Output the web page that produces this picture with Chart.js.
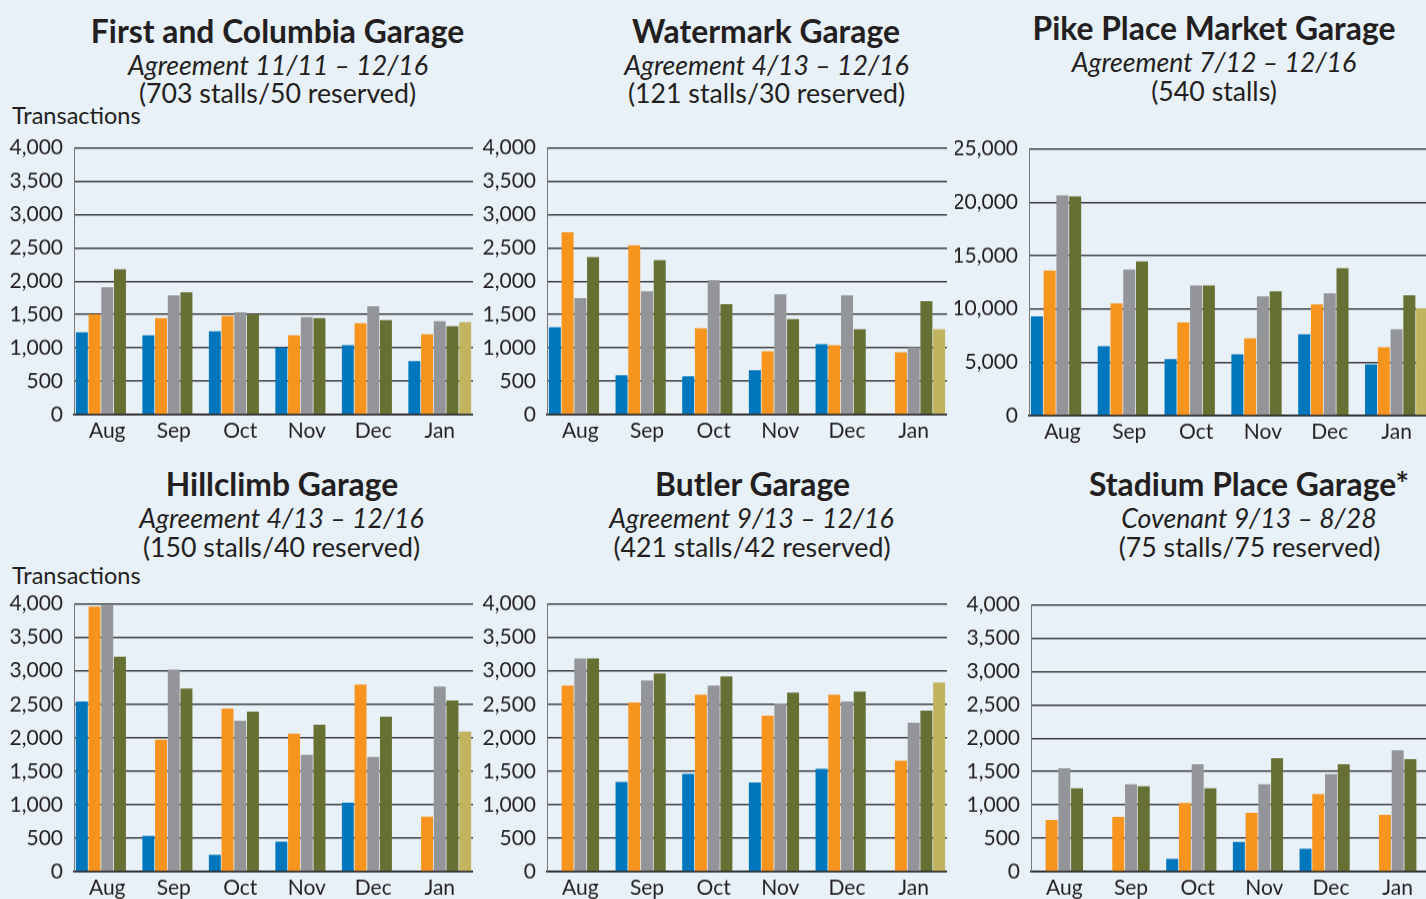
<!DOCTYPE html>
<html><head><meta charset="utf-8">
<script src="https://cdn.jsdelivr.net/npm/chart.js@4.4.1/dist/chart.umd.min.js"></script>
<style>
html,body{margin:0;padding:0;width:1426px;height:899px;overflow:hidden;background:#e8f0f8;font-family:Lato,"Noto Sans",sans-serif;color:#231f20;}
.t{position:absolute;white-space:nowrap;line-height:1.2;transform:translateX(-50%);}
.title{font-weight:bold;font-size:28px;}
.sub{font-style:italic;font-size:22px;}
.info{font-size:22px;}
.yl{position:absolute;left:12px;font-size:23.5px;line-height:1.2;white-space:nowrap;}
canvas{position:absolute;}
</style></head><body>
<script>
// ---------- data ----------
const months = ['Aug','Sep','Oct','Nov','Dec','Jan'];
const seriesLabels = ['Year 1','Year 2','Year 3','Year 4','Year 5'];
const garageNames = ['First and Columbia Garage','Watermark Garage','Pike Place Market Garage','Hillclimb Garage','Butler Garage','Stadium Place Garage*'];
const agreementTexts = ['Agreement 11/11 – 12/16','Agreement 4/13 – 12/16','Agreement 7/12 – 12/16','Agreement 4/13 – 12/16','Agreement 9/13 – 12/16','Covenant 9/13 – 8/28'];
const stallTexts = ['(703 stalls/50 reserved)','(121 stalls/30 reserved)','(540 stalls)','(150 stalls/40 reserved)','(421 stalls/42 reserved)','(75 stalls/75 reserved)'];
const ticksSmall = [0,500,1000,1500,2000,2500,3000,3500,4000];
const ticksLarge = [0,5000,10000,15000,20000,25000];

const firstColumbia = [
  [1235,1190,1250,1005,1040,800],
  [1505,1445,1475,1190,1370,1205],
  [1910,1790,1535,1460,1625,1400],
  [2180,1835,1500,1445,1415,1325],
  [null,null,null,null,null,1385]
];
const watermark = [
  [1310,590,575,665,1055,null],
  [2735,2540,1295,950,1040,935],
  [1745,1850,2015,1805,1790,1010],
  [2360,2315,1655,1430,1280,1700],
  [null,null,null,null,null,1280]
];
const pikePlace = [
  [9300,6500,5280,5750,7620,4800],
  [13600,10500,8740,7240,10420,6400],
  [20650,13700,12200,11170,11450,8080],
  [20550,14450,12200,11650,13800,11270],
  [null,null,null,null,null,10050]
];
const hillclimb = [
  [2540,535,250,445,1030,null],
  [3960,1970,2435,2060,2795,820],
  [3980,3020,2255,1745,1715,2765],
  [3210,2735,2390,2195,2315,2555],
  [null,null,null,null,null,2090]
];
const butler = [
  [null,1340,1460,1330,1535,null],
  [2780,2525,2645,2330,2645,1655],
  [3185,2855,2780,2510,2540,2225],
  [3185,2960,2915,2675,2690,2405],
  [null,null,null,null,null,2825]
];
const stadiumPlace = [
  [null,null,190,445,340,null],
  [775,820,1030,880,1160,850],
  [1550,1310,1610,1310,1460,1820],
  [1250,1280,1250,1700,1610,1685],
  [null,null,null,null,null,null]
];

// ---------- style / layout ----------
const seriesColors = ['#0077bc','#f7941e','#949598','#667032','#c2b45f'];
const allSeries = [firstColumbia, watermark, pikePlace, hillclimb, butler, stadiumPlace];
const allTicks = [ticksSmall, ticksSmall, ticksLarge, ticksSmall, ticksSmall, ticksSmall];
const panels = [
  {axisX:74,  top:148, bottom:415, right:473,  cx:[277.5,278,277.5], cy:[32,66,94], w:[373,300,277]},
  {axisX:547, top:148, bottom:415, right:947,  cx:[766,766.5,766.5], cy:[32,66,94], w:[268,285,277]},
  {axisX:1029,top:149, bottom:416, right:1430, cx:[1214,1214,1214],   cy:[29,63,92], w:[364,286,126]},
  {axisX:74,  top:604, bottom:872, right:473,  cx:[282,281.5,281.5],  cy:[485,519,548], w:[232,285,277]},
  {axisX:547, top:604, bottom:872, right:947,  cx:[752.5,751.5,752],  cy:[485,519,548], w:[195,285,278]},
  {axisX:1031,top:605, bottom:872, right:1431, cx:[1249,1249,1249.5], cy:[485,519,548], w:[320,254,261]}
];

// ---------- headings (HTML text) ----------
const classes = ['title','sub','info'];
const texts = [garageNames, agreementTexts, stallTexts];
const els = [[],[],[]];
panels.forEach((p,i)=>{
  for(let k=0;k<3;k++){
    const d=document.createElement('div');
    d.className='t '+classes[k];
    d.textContent=texts[k][i];
    document.body.appendChild(d);
    els[k].push(d);
  }
});
for(let k=0;k<3;k++){
  let sum=0;
  els[k].forEach((d,i)=>{ sum += panels[i].w[k]/d.getBoundingClientRect().width; });
  const base=parseFloat(getComputedStyle(els[k][0]).fontSize);
  const fs = base*sum/els[k].length;
  els[k].forEach((d,i)=>{
    d.style.fontSize=fs+'px';
    d.style.left=panels[i].cx[k]+'px';
    d.style.top=(panels[i].cy[k]-0.629*fs)+'px';
  });
}
[116,576].forEach(cy=>{
  const d=document.createElement('div');
  d.className='yl'; d.textContent='Transactions';
  d.style.top=(cy-0.629*23.5)+'px';
  document.body.appendChild(d);
});

// ---------- charts ----------
const xH=40, yW=74;
panels.forEach((p,i)=>{
  const c=document.createElement('canvas');
  const w=yW+(p.right-p.axisX);
  let h=(p.bottom-p.top)+xH+20;
  c.width=w; c.height=h;
  c.style.left=(p.axisX-yW)+'px'; c.style.top=(p.top-20)+'px';
  c.style.width=w+'px'; c.style.height=h+'px';
  document.body.appendChild(c);
  const tv=allTicks[i];
  const chart=new Chart(c,{
    type:'bar',
    data:{labels:months,datasets:allSeries[i].map((d,k)=>({label:seriesLabels[k],data:d,backgroundColor:seriesColors[k],categoryPercentage:0.955,barPercentage:0.94}))},
    options:{
      responsive:false,animation:false,devicePixelRatio:1,
      layout:{padding:0},
      plugins:{legend:{display:false},tooltip:{enabled:false}},
      scales:{
        x:{grid:{display:false,drawTicks:false},border:{display:true,color:'#333',width:2},
           ticks:{font:{family:'Lato',size:21},color:'#231f20',padding:4,maxRotation:0,autoSkip:false},
           afterFit:s=>{s.height=xH;}},
        y:{min:tv[0],max:tv[tv.length-1],
           grid:{color:'#3d3d3d',lineWidth:1.5,drawTicks:false},
           border:{display:true,color:'#777',width:1},
           ticks:{font:{family:'Lato',size:21},color:'#231f20',padding:11,callback:v=>v.toLocaleString('en-US')},
           afterBuildTicks:s=>{s.ticks=tv.map(v=>({value:v}));},
           afterFit:s=>{s.width=yW;}}
      }
    }
  });
  // align the chart area with the measured plot box
  const off=chart.chartArea.top;
  const below=h-chart.chartArea.bottom;
  const nh=off+(p.bottom-p.top)+below;
  chart.resize(w,nh);
  c.style.top=(p.top-off)+'px';
  c.style.height=nh+'px';
  c.style.width=w+'px';
});
</script>
</body></html>
